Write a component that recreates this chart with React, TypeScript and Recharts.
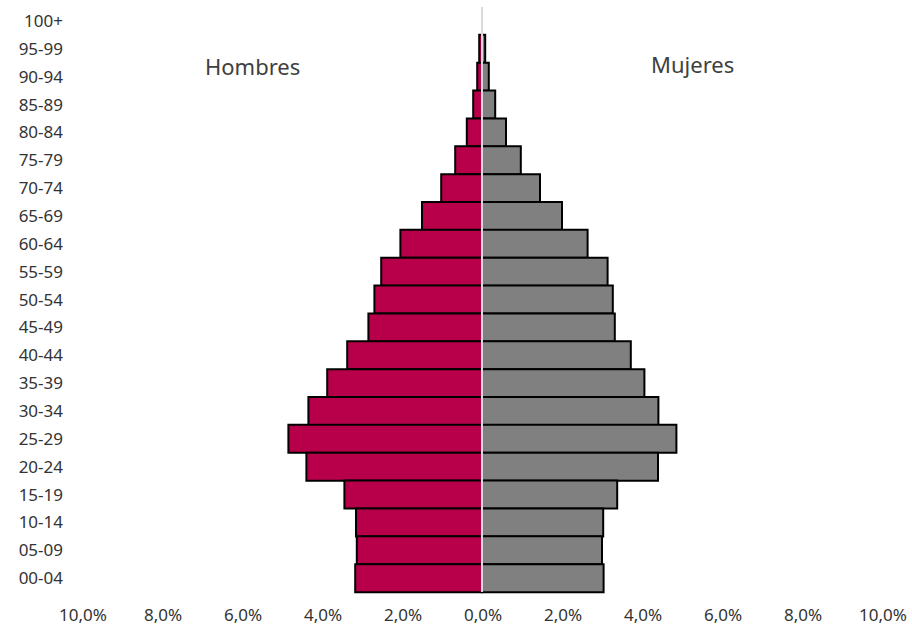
import { BarChart, Bar, XAxis, YAxis, ReferenceLine } from 'recharts';

const ages = [
  '100+', '95-99', '90-94', '85-89', '80-84', '75-79', '70-74', '65-69', '60-64', '55-59', '50-54',
  '45-49', '40-44', '35-39', '30-34', '25-29', '20-24', '15-19', '10-14', '05-09', '00-04',
];

// % of total population
const hombres = [0, 0.07, 0.12, 0.22, 0.38, 0.67, 1.02, 1.5, 2.04, 2.52, 2.69, 2.84, 3.37, 3.87, 4.34, 4.84, 4.39, 3.44, 3.15, 3.13, 3.17];
const mujeres = [0, 0.08, 0.17, 0.33, 0.6, 0.97, 1.45, 2.0, 2.64, 3.14, 3.27, 3.32, 3.72, 4.06, 4.41, 4.86, 4.4, 3.38, 3.03, 3.0, 3.04];

const xTicks = [-10, -8, -6, -4, -2, 0, 2, 4, 6, 8, 10];

const data = ages.map((age, i) => ({
  age,
  hombres: -hombres[i],
  mujeres: mujeres[i],
}));

const fmt = (v: number) => `${Math.abs(v).toFixed(1).replace('.', ',')}%`;

const font = '"Noto Sans", "Open Sans", sans-serif';

export default function App() {
  return (
    <div style={{ position: 'absolute', left: 0, top: 0, width: 912, height: 629, background: '#fff', fontFamily: font }}>
      <BarChart
        width={912}
        height={629}
        data={data}
        layout="vertical"
        stackOffset="sign"
        barCategoryGap={0}
        margin={{ top: 7, right: 30, left: 0, bottom: 0 }}
      >
        <XAxis
          type="number"
          domain={[-10, 10]}
          ticks={xTicks}
          tickFormatter={fmt}
          axisLine={false}
          tickLine={false}
          tickMargin={11}
          height={37}
          interval={0}
          tick={{ fill: '#333', fontSize: 17, fontFamily: font, dx: 1 }}
        />
        <YAxis
          type="category"
          dataKey="age"
          width={82}
          axisLine={false}
          tickLine={false}
          tickMargin={13}
          interval={0}
          tick={{ fill: '#333', fontSize: 17, fontFamily: font }}
        />
        <Bar dataKey="hombres" stackId="p" fill="#B8004A" stroke="#000" strokeWidth={2} isAnimationActive={false} />
        <Bar dataKey="mujeres" stackId="p" fill="#808080" stroke="#000" strokeWidth={2} isAnimationActive={false} />
        <ReferenceLine x={0} stroke="#D9D9D9" strokeWidth={2} />
      </BarChart>
      <div style={{ position: 'absolute', left: 205, top: 51, fontSize: 22, color: '#404040', lineHeight: '30px' }}>Hombres</div>
      <div style={{ position: 'absolute', left: 651, top: 49, fontSize: 22, color: '#404040', lineHeight: '30px' }}>Mujeres</div>
    </div>
  );
}
